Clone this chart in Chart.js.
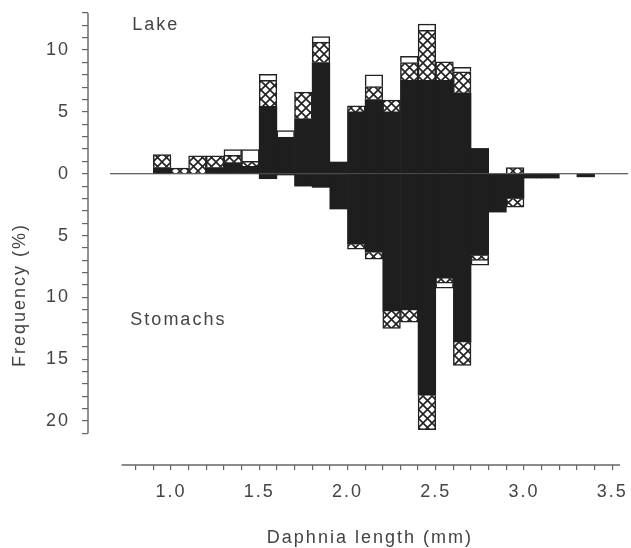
<!DOCTYPE html>
<html>
<head>
<meta charset="utf-8">
<script src="https://cdn.jsdelivr.net/npm/chart.js@4.4.1/dist/chart.umd.min.js"></script>
<style>
  html, body { margin: 0; padding: 0; background: #fff; }
</style>
</head>
<body>
<canvas id="myChart" width="631" height="548"></canvas>
<script>
// Daphnia length classes (mm), 0.1 mm bins - centre of each bin
var binCentres = [0.95, 1.05, 1.15, 1.25, 1.35, 1.45, 1.55, 1.65, 1.75, 1.85, 1.95, 2.05, 2.15,
                  2.25, 2.35, 2.45, 2.55, 2.65, 2.75, 2.85, 2.95, 3.05, 3.15, 3.25, 3.35];

// Lake samples (%), stacked upwards: solid, then hatched, then open
var lakeSolid   = [0.5, 0, 0, 0.5, 0.9, 0.6, 5.45, 2.95, 4.45, 9.0, 0.95, 5.0, 6.0,
                   5.0, 7.55, 7.55, 7.55, 6.55, 2.05, 0, 0, 0, 0, 0, 0];
var lakeHatched = [1.05, 0.45, 1.45, 0.95, 0.6, 0.4, 2.1, 0, 2.15, 1.65, 0, 0.5, 1.05,
                   0.95, 1.45, 4.05, 1.5, 1.7, 0, 0, 0.5, 0, 0, 0, 0];
var lakeOpen    = [0, 0, 0, 0, 0.45, 0.95, 0.5, 0.55, 0, 0.45, 0, 0, 0.95,
                   0, 0.5, 0.5, 0, 0.35, 0, 0, 0, 0, 0, 0, 0];

// Fish stomachs (%), drawn downwards
var stomachSolid   = [0, 0, 0, 0, 0, 0, 0.4, 0.1, 1.0, 1.1, 2.85, 5.7, 6.35,
                      11.1, 11.0, 17.9, 8.45, 13.6, 6.6, 3.1, 2.0, 0.35, 0.35, 0, 0.25];
var stomachHatched = [0, 0, 0, 0, 0, 0, 0, 0, 0, 0, 0, 0.4, 0.55,
                      1.4, 1.0, 2.8, 0.4, 1.9, 0.4, 0, 0.7, 0, 0, 0, 0];
var stomachOpen    = [0, 0, 0, 0, 0, 0, 0, 0, 0, 0, 0, 0, 0,
                      0, 0, 0, 0.4, 0, 0.4, 0, 0, 0, 0, 0, 0];

var xTickLabels = ['1.0', '1.5', '2.0', '2.5', '3.0', '3.5'];
var yTickValues = [10, 5, 0, -5, -10, -15, -20];

var FONT = '"Liberation Sans", Arial, sans-serif';
var TEXT = '#444';
var AXIS = '#666';
var INK = '#1e1e1e';

var canvas = document.getElementById('myChart');
var ctx = canvas.getContext('2d');

function makeHatch() {
    var c = document.createElement('canvas');
    c.width = 9;
    c.height = 9;
    var g = c.getContext('2d');
    g.fillStyle = '#fff';
    g.fillRect(0, 0, 9, 9);
    g.strokeStyle = '#222';
    g.lineWidth = 1.6;
    g.beginPath();
    g.moveTo(0, 0); g.lineTo(9, 9);
    g.moveTo(9, 0); g.lineTo(0, 9);
    g.stroke();
    return ctx.createPattern(c, 'repeat');
}

function toPoints(values, sign) {
    return binCentres.map(function (x, i) {
        return { x: x, y: values[i] ? sign * values[i] : null };
    });
}

function barSet(label, values, sign, fill, outlined) {
    return {
        label: label,
        data: toPoints(values, sign),
        backgroundColor: fill,
        borderColor: '#222',
        borderWidth: outlined ? 1.5 : 0,
        borderSkipped: 'start',
        barPercentage: 1,
        categoryPercentage: 1
    };
}

function isTick(v, list) {
    for (var i = 0; i < list.length; i++) {
        if (Math.abs(parseFloat(list[i]) - v) < 1e-6) return true;
    }
    return false;
}

var hatch = makeHatch();

// axis lines, baseline and the free text labels
var decorations = {
    id: 'decorations',
    beforeDraw: function (chart) {
        chart.ctx.letterSpacing = '2px';
    },
    afterDatasetsDraw: function (chart) {
        var c = chart.ctx, xs = chart.scales.x, ys = chart.scales.y;
        c.save();
        c.strokeStyle = '#333';
        c.lineWidth = 1.2;
        c.beginPath();
        c.moveTo(xs.getPixelForValue(0.655), ys.getPixelForValue(0));
        c.lineTo(xs.getPixelForValue(3.59), ys.getPixelForValue(0));
        c.stroke();
        c.restore();
    },
    afterDraw: function (chart) {
        var c = chart.ctx, xs = chart.scales.x, ys = chart.scales.y, a = chart.chartArea;
        c.save();
        c.strokeStyle = AXIS;
        c.lineWidth = 1.4;
        c.beginPath();
        c.moveTo(a.left, ys.getPixelForValue(13));
        c.lineTo(a.left, ys.getPixelForValue(-21));
        c.moveTo(xs.getPixelForValue(0.72), a.bottom);
        c.lineTo(a.right, a.bottom);
        c.stroke();

        c.letterSpacing = '2px';
        c.fillStyle = TEXT;
        c.font = '18px ' + FONT;
        c.textBaseline = 'alphabetic';
        c.textAlign = 'left';
        c.fillText('Lake', xs.getPixelForValue(0.78), ys.getPixelForValue(11.6));
        c.fillText('Stomachs', xs.getPixelForValue(0.77), ys.getPixelForValue(-12.2));
        c.textAlign = 'center';
        c.fillText('Daphnia length (mm)', xs.getPixelForValue(2.127), a.bottom + 78);
        c.translate(25, ys.getPixelForValue(-9.8));
        c.rotate(-Math.PI / 2);
        c.fillText('Frequency (%)', 0, 0);
        c.restore();
    }
};

var myChart = new Chart(ctx, {
    type: 'bar',
    data: {
        datasets: [
            barSet('Lake solid', lakeSolid, 1, INK, false),
            barSet('Stomach solid', stomachSolid, -1, INK, false),
            barSet('Lake hatched', lakeHatched, 1, hatch, true),
            barSet('Stomach hatched', stomachHatched, -1, hatch, true),
            barSet('Lake open', lakeOpen, 1, '#fff', true),
            barSet('Stomach open', stomachOpen, -1, '#fff', true)
        ]
    },
    options: {
        responsive: false,
        animation: false,
        layout: { padding: { top: 13, right: 11, left: 0, bottom: 0 } },
        plugins: {
            legend: { display: false },
            tooltip: { enabled: false }
        },
        scales: {
            x: {
                type: 'linear',
                stacked: true,
                offset: false,
                min: 0.53,
                max: 3.544,
                border: { display: false },
                grid: {
                    offset: false,
                    drawOnChartArea: false,
                    tickLength: 5,
                    lineWidth: 1.2,
                    tickColor: function (c) {
                        return c.tick && c.tick.value > 0.75 ? AXIS : 'rgba(0,0,0,0)';
                    }
                },
                ticks: {
                    stepSize: 0.1,
                    includeBounds: false,
                    autoSkip: false,
                    maxRotation: 0,
                    padding: 11,
                    color: TEXT,
                    font: { family: FONT, size: 18 },
                    callback: function (v) {
                        return isTick(v, xTickLabels) ? v.toFixed(1) : '';
                    }
                },
                afterFit: function (s) {
                    s.height = 83;
                    s.paddingLeft = 0;
                    s.paddingRight = 0;
                }
            },
            y: {
                stacked: true,
                min: -23.55,
                max: 13,
                border: { display: false },
                grid: {
                    drawOnChartArea: false,
                    tickLength: 6,
                    lineWidth: 1.2,
                    tickColor: function (c) {
                        return c.tick && c.tick.value >= -21 ? AXIS : 'rgba(0,0,0,0)';
                    }
                },
                ticks: {
                    stepSize: 1,
                    includeBounds: false,
                    autoSkip: false,
                    padding: 12,
                    color: TEXT,
                    font: { family: FONT, size: 18 },
                    callback: function (v) {
                        return yTickValues.indexOf(v) >= 0 ? String(Math.abs(v)) : '';
                    }
                },
                afterFit: function (s) {
                    s.width = 88;
                    s.paddingTop = 0;
                    s.paddingBottom = 0;
                }
            }
        }
    },
    plugins: [decorations]
});
</script>
</body>
</html>
